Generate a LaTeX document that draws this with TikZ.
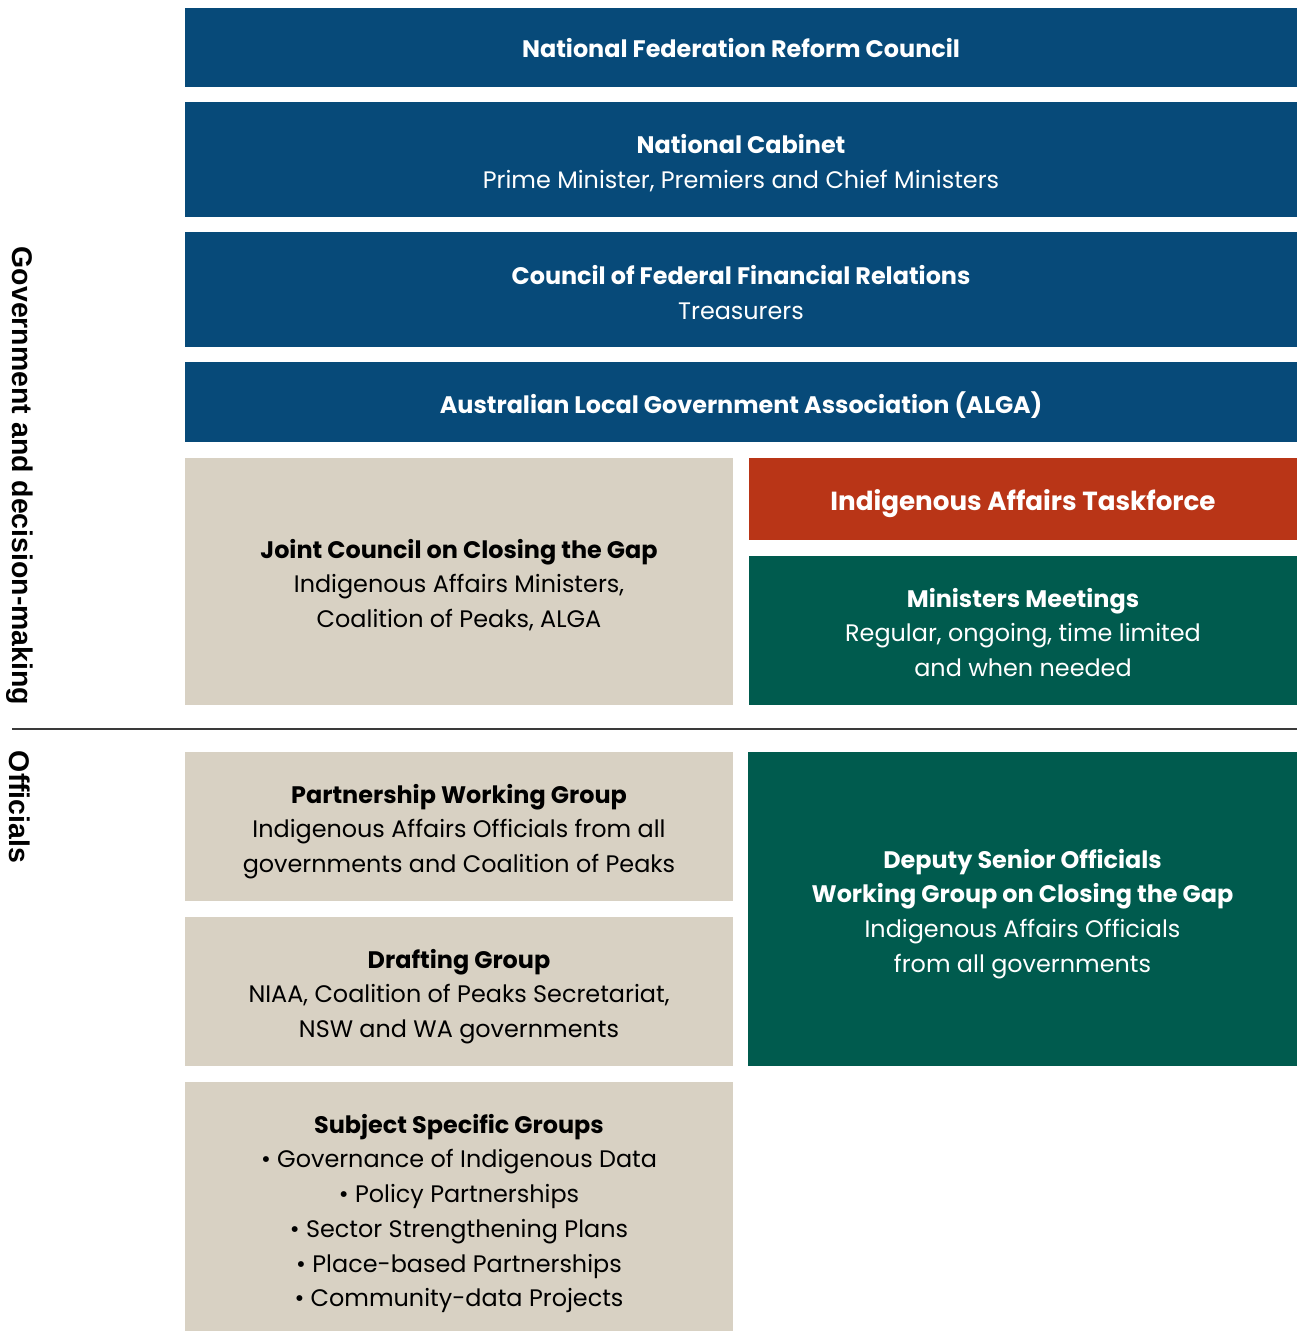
\documentclass[tikz,border=0pt]{standalone}
\usepackage{fontspec}
\setmainfont{Poppins}
\newfontfamily\sidefont{Liberation Sans}
\usepackage{tikz}
\usetikzlibrary{positioning}
\definecolor{navy}{HTML}{074A79}
\definecolor{rust}{HTML}{B93517}
\definecolor{pine}{HTML}{005B4E}
\definecolor{sand}{HTML}{D8D1C3}
\definecolor{rule}{HTML}{3A3A3A}
\tikzset{
  box/.style={inner sep=0pt},
  bluebox/.style={box, fill=navy, minimum width=22.24cm},
  halfbox/.style={box, minimum width=10.96cm},
  sandbox/.style={halfbox, fill=sand},
  greenbox/.style={halfbox, fill=pine},
  redbox/.style={halfbox, fill=rust},
  txt/.style={inner sep=0pt, align=center, font=\fontsize{13.6}{19.8}\selectfont},
  lighttxt/.style={txt, text=white},
  darktxt/.style={txt, text=black},
  sidelab/.style={rotate=-90, font=\sidefont\bfseries\fontsize{16.2}{18}\selectfont, text=black}
}

\begin{document}
\begin{tikzpicture}[x=0.02cm, y=-0.02cm]
  \useasboundingbox (0,0) rectangle (1298,1332);

  % government and decision-making
  \node[bluebox, minimum height=1.58cm] (nfrc) at (741,47.5) {};
  \node[bluebox, minimum height=2.30cm] (cabinet) at (741,159.5) {};
  \node[bluebox, minimum height=2.30cm] (cffr) at (741,289.5) {};
  \node[bluebox, minimum height=1.60cm] (alga) at (741,402) {};
  \node[sandbox, minimum height=4.94cm] (joint) at (459,581.5) {};
  \node[redbox, minimum height=1.64cm] (taskforce) at (1023,499) {};
  \node[greenbox, minimum height=2.98cm] (ministers) at (1023,630.5) {};

  \node[lighttxt] (nfrc-t) at ([yshift=-0.02cm]nfrc.center)
    {\textbf{National Federation Reform Council}};
  \node[lighttxt] (cabinet-t) at ([yshift=-0.08cm]cabinet.center)
    {\textbf{National Cabinet}\\Prime Minister, Premiers and Chief Ministers};
  \node[lighttxt] (cffr-t) at ([yshift=-0.06cm]cffr.center)
    {\textbf{Council of Federal Financial Relations}\\Treasurers};
  \node[lighttxt] (alga-t) at ([yshift=-0.07cm]alga.center)
    {\textbf{Australian Local Government Association (ALGA)}};
  \node[darktxt] (joint-t) at ([yshift=-0.07cm]joint.center)
    {\textbf{Joint Council on Closing the Gap}\\Indigenous Affairs Ministers,\\Coalition of Peaks, ALGA};
  \node[lighttxt, font=\fontsize{14.9}{19.8}\selectfont] (taskforce-t) at ([yshift=-0.1cm]taskforce.center)
    {\textbf{Indigenous Affairs Taskforce}};
  \node[lighttxt] (ministers-t) at ([yshift=-0.04cm]ministers.center)
    {\textbf{Ministers Meetings}\\Regular, ongoing, time limited\\and when needed};

  \coordinate (ruleL) at (12,729);
  \coordinate (ruleR) at (1297,729);
  \draw[rule, line width=1.2pt] (ruleL) -- (ruleR);

  % officials
  \node[sandbox, minimum height=2.98cm] (pwg) at (459,826.5) {};
  \node[sandbox, minimum height=2.98cm] (drafting) at (459,991.5) {};
  \node[sandbox, minimum height=4.98cm] (subject) at (459,1206.5) {};
  \node[greenbox, minimum width=10.98cm, minimum height=6.28cm] (deputy) at (1022.5,909) {};

  \node[darktxt] (pwg-t) at ([yshift=-0.1cm]pwg.center)
    {\textbf{Partnership Working Group}\\Indigenous Affairs Officials from all\\governments and Coalition of Peaks};
  \node[darktxt] (drafting-t) at ([yshift=-0.1cm]drafting.center)
    {\textbf{Drafting Group}\\NIAA, Coalition of Peaks Secretariat,\\NSW and WA governments};
  \node[darktxt] (subject-t) at ([yshift=-0.14cm]subject.center)
    {\textbf{Subject Specific Groups}\\\textbullet\ Governance of Indigenous Data\\\textbullet\ Policy Partnerships\\
     \textbullet\ Sector Strengthening Plans\\\textbullet\ Place-based Partnerships\\\textbullet\ Community-data Projects};
  \node[lighttxt] (deputy-t) at ([yshift=-0.1cm]deputy.center)
    {\textbf{Deputy Senior Officials}\\\textbf{Working Group on Closing the Gap}\\Indigenous Affairs Officials\\from all governments};

  \node[sidelab] (govlab) at (20,476) {Government and decision-making};
  \node[sidelab] (offlab) at (20,807) {Officials};
\end{tikzpicture}
\end{document}
